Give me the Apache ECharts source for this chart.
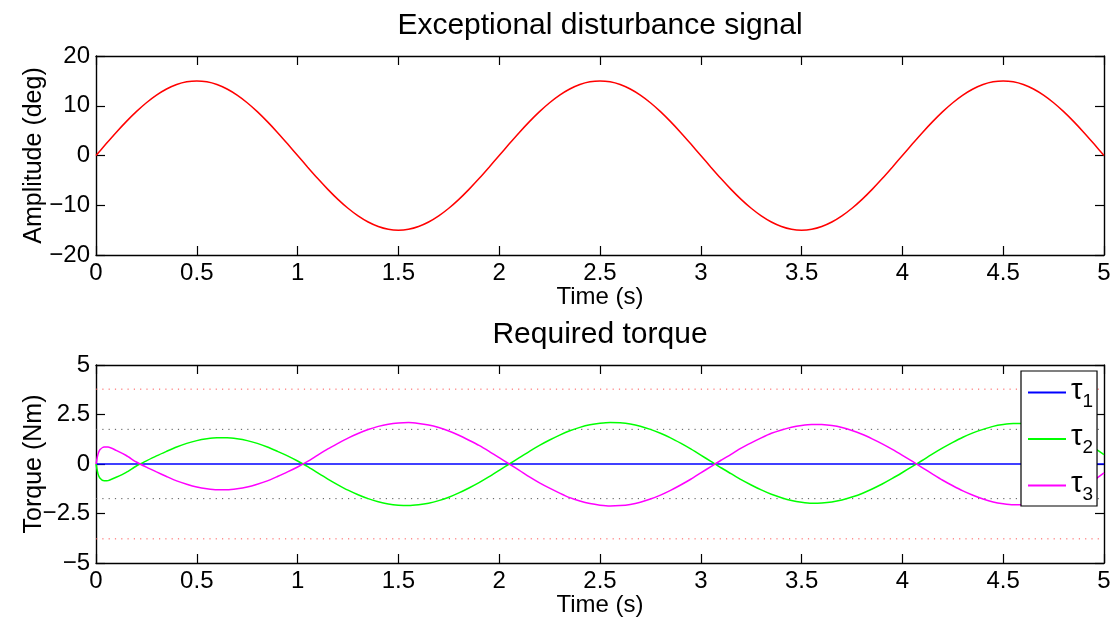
<!DOCTYPE html>
<html>
<head>
<meta charset="utf-8">
<script src="https://cdn.jsdelivr.net/npm/echarts@6/dist/echarts.min.js"></script>
<style>
  html, body { margin: 0; padding: 0; background: #fff; }
  #chart { width: 1120px; height: 623px; }
</style>
</head>
<body>
<div id="chart"></div>
<script>
// top panel: disturbance signal (deg)
const signalTime = [
  0, 0.05, 0.1, 0.15, 0.2, 0.25, 0.3, 0.35, 0.4, 0.45, 0.5, 0.55, 0.6, 0.65, 0.7, 0.75, 0.8, 0.85, 0.9, 0.95,
  1, 1.05, 1.1, 1.15, 1.2, 1.25, 1.3, 1.35, 1.4, 1.45, 1.5, 1.55, 1.6, 1.65, 1.7, 1.75, 1.8, 1.85, 1.9, 1.95,
  2, 2.05, 2.1, 2.15, 2.2, 2.25, 2.3, 2.35, 2.4, 2.45, 2.5, 2.55, 2.6, 2.65, 2.7, 2.75, 2.8, 2.85, 2.9, 2.95,
  3, 3.05, 3.1, 3.15, 3.2, 3.25, 3.3, 3.35, 3.4, 3.45, 3.5, 3.55, 3.6, 3.65, 3.7, 3.75, 3.8, 3.85, 3.9, 3.95,
  4, 4.05, 4.1, 4.15, 4.2, 4.25, 4.3, 4.35, 4.4, 4.45, 4.5, 4.55, 4.6, 4.65, 4.7, 4.75, 4.8, 4.85, 4.9, 4.95,
  5
]
const signalAmp = [
  0, 2.35, 4.64, 6.81, 8.82, 10.61, 12.14, 13.37, 14.27, 14.82, 15, 14.82, 14.27, 13.37, 12.14, 10.61, 8.82, 6.81, 4.64, 2.35,
  0, -2.35, -4.64, -6.81, -8.82, -10.61, -12.14, -13.37, -14.27, -14.82, -15, -14.82, -14.27, -13.37, -12.14, -10.61, -8.82, -6.81, -4.64, -2.35,
  0, 2.35, 4.64, 6.81, 8.82, 10.61, 12.14, 13.37, 14.27, 14.82, 15, 14.82, 14.27, 13.37, 12.14, 10.61, 8.82, 6.81, 4.64, 2.35,
  0, -2.35, -4.64, -6.81, -8.82, -10.61, -12.14, -13.37, -14.27, -14.82, -15, -14.82, -14.27, -13.37, -12.14, -10.61, -8.82, -6.81, -4.64, -2.35,
  0, 2.35, 4.64, 6.81, 8.82, 10.61, 12.14, 13.37, 14.27, 14.82, 15, 14.82, 14.27, 13.37, 12.14, 10.61, 8.82, 6.81, 4.64, 2.35,
  0
]

// bottom panel: required torque (Nm)
const torqueTime = [
  0, 0.01, 0.02, 0.04, 0.06, 0.1, 0.15, 0.2,
  0.25, 0.3, 0.35, 0.4, 0.45, 0.5, 0.55, 0.6, 0.65, 0.7, 0.75, 0.8, 0.85, 0.9, 0.95, 1,
  1.05, 1.1, 1.15, 1.2, 1.25, 1.3, 1.35, 1.4, 1.45, 1.5, 1.55, 1.6, 1.65, 1.7, 1.75, 1.8, 1.85, 1.9, 1.95, 2,
  2.05, 2.1, 2.15, 2.2, 2.25, 2.3, 2.35, 2.4, 2.45, 2.5, 2.55, 2.6, 2.65, 2.7, 2.75, 2.8, 2.85, 2.9, 2.95, 3,
  3.05, 3.1, 3.15, 3.2, 3.25, 3.3, 3.35, 3.4, 3.45, 3.5, 3.55, 3.6, 3.65, 3.7, 3.75, 3.8, 3.85, 3.9, 3.95, 4,
  4.05, 4.1, 4.15, 4.2, 4.25, 4.3, 4.35, 4.4, 4.45, 4.5, 4.55, 4.6, 4.65, 4.7, 4.75, 4.8, 4.85, 4.9, 4.95, 5
]
const tau2 = [
  0, -0.5, -0.72, -0.85, -0.84, -0.67, -0.42, -0.1,
  0.16, 0.41, 0.64, 0.86, 1.04, 1.18, 1.27, 1.32, 1.32, 1.27, 1.18, 1.04, 0.86, 0.64, 0.41, 0.15,
  -0.13, -0.45, -0.76, -1.05, -1.32, -1.55, -1.75, -1.91, -2.02, -2.08, -2.10, -2.06, -1.98, -1.85, -1.68, -1.46, -1.21, -0.94, -0.64, -0.32,
  0, 0.32, 0.64, 0.94, 1.21, 1.46, 1.68, 1.85, 1.98, 2.06, 2.10, 2.08, 2.02, 1.91, 1.75, 1.55, 1.32, 1.05, 0.76, 0.45,
  0.13, -0.19, -0.49, -0.79, -1.06, -1.31, -1.53, -1.70, -1.84, -1.93, -1.98, -1.97, -1.92, -1.82, -1.67, -1.49, -1.26, -1.01, -0.73, -0.43,
  -0.12, 0.19, 0.51, 0.81, 1.09, 1.35, 1.57, 1.75, 1.90, 1.99, 2.04, 2.04, 1.99, 1.90, 1.75, 1.57, 1.35, 1.09, 0.81, 0.47
]
const tau3 = [
  0, 0.5, 0.73, 0.86, 0.86, 0.69, 0.43, 0.1,
  -0.16, -0.40, -0.63, -0.85, -1.02, -1.16, -1.25, -1.30, -1.30, -1.25, -1.16, -1.02, -0.85, -0.63, -0.40, -0.15,
  0.13, 0.45, 0.76, 1.04, 1.31, 1.54, 1.74, 1.90, 2.01, 2.07, 2.09, 2.05, 1.97, 1.84, 1.67, 1.45, 1.20, 0.94, 0.64, 0.32,
  0, -0.32, -0.65, -0.95, -1.22, -1.47, -1.70, -1.87, -2.00, -2.08, -2.12, -2.10, -2.04, -1.93, -1.77, -1.57, -1.33, -1.06, -0.77, -0.45,
  -0.13, 0.19, 0.49, 0.80, 1.07, 1.32, 1.55, 1.72, 1.86, 1.95, 2.00, 1.99, 1.94, 1.84, 1.69, 1.50, 1.27, 1.02, 0.74, 0.44,
  0.13, -0.19, -0.51, -0.82, -1.10, -1.36, -1.58, -1.77, -1.92, -2.01, -2.06, -2.06, -2.01, -1.92, -1.77, -1.58, -1.36, -1.10, -0.82, -0.45
]
const tau1Time = [0, 5]
const tau1 = [0, 0]

// dotted limit lines
const limitTime = [0, 5]
const outerLimit = 3.78
const innerLimit = 1.75

// ticks
const xTicks = [0, 0.5, 1, 1.5, 2, 2.5, 3, 3.5, 4, 4.5, 5]
const ampTicks = [-20, -10, 0, 10, 20]
const torqueTicks = [-5, -2.5, 0, 2.5, 5]

const FONT = '"Liberation Sans", Arial, Helvetica, sans-serif'
const pairs = (xs, ys) => xs.map((x, i) => [x, ys[i]])
const fmt = (v) => String(v).replace('-', '\u2212')

const boxLine = { show: true, onZero: false, lineStyle: { color: '#000', width: 1.4 } }
const tick = { show: true, inside: true, length: 9, lineStyle: { color: '#000', width: 1.2 } }

function xAxisPair(gridIndex) {
  const base = {
    type: 'value', gridIndex,
    min: xTicks[0], max: xTicks[xTicks.length - 1],
    interval: xTicks[1] - xTicks[0],
    splitLine: { show: false },
    axisLine: boxLine, axisTick: tick,
  }
  return [
    {
      ...base, position: 'bottom',
      name: 'Time (s)', nameLocation: 'middle', nameGap: 30, nameMoveOverlap: false,
      nameTextStyle: { fontSize: 24, color: '#000', fontFamily: FONT },
      axisLabel: { fontSize: 24, color: '#000', fontFamily: FONT, margin: 6, formatter: fmt },
    },
    { ...base, position: 'top', axisLabel: { show: false } },
  ]
}

function yAxisPair(gridIndex, ticks, name) {
  const base = {
    type: 'value', gridIndex,
    min: ticks[0], max: ticks[ticks.length - 1],
    interval: ticks[1] - ticks[0],
    splitLine: { show: false },
    axisLine: boxLine, axisTick: tick,
  }
  return [
    {
      ...base, position: 'left',
      name, nameLocation: 'middle', nameGap: 49, nameMoveOverlap: false,
      nameTextStyle: { fontSize: 25, color: '#000', fontFamily: FONT },
      axisLabel: { fontSize: 24, color: '#000', fontFamily: FONT, margin: 6, formatter: fmt },
    },
    { ...base, position: 'right', axisLabel: { show: false } },
  ]
}

function limitSeries(value, color) {
  return [value, -value].map((v) => ({
    type: 'line', xAxisIndex: 2, yAxisIndex: 2,
    data: pairs(limitTime, [v, v]),
    symbol: 'none', silent: true,
    lineStyle: { color, width: 1, type: [1.2, 5.1] },
  }))
}

const chart = echarts.init(document.getElementById('chart'))
chart.setOption({
  animation: false,
  backgroundColor: '#fff',
  title: [
    { text: 'Exceptional disturbance signal', left: 600, top: 11, textAlign: 'center', padding: 0,
      textStyle: { fontSize: 30, fontWeight: 'normal', color: '#000', fontFamily: FONT } },
    { text: 'Required torque', left: 600, top: 320, textAlign: 'center', padding: 0,
      textStyle: { fontSize: 30, fontWeight: 'normal', color: '#000', fontFamily: FONT } },
  ],
  grid: [
    { left: 96, top: 56, width: 1008, height: 199 },
    { left: 96, top: 365, width: 1008, height: 198 },
  ],
  xAxis: [...xAxisPair(0), ...xAxisPair(1)],
  yAxis: [
    ...yAxisPair(0, ampTicks, 'Amplitude (deg)'),
    ...yAxisPair(1, torqueTicks, 'Torque (Nm)'),
  ],
  legend: {
    data: ['τ1', 'τ2', 'τ3'],
    orient: 'vertical',
    left: 1021, top: 371,
    backgroundColor: '#fff',
    borderColor: '#000', borderWidth: 1.2, borderRadius: 0,
    padding: [5, 4, 2, 7],
    itemGap: 11.5,
    itemWidth: 38, itemHeight: 2,
    icon: 'rect',
    formatter: (name) => `{t|τ}{s|${name.slice(1)}}`,
    textStyle: {
      color: '#000', fontFamily: FONT,
      rich: {
        t: { fontSize: 29, fontFamily: FONT, color: '#000', verticalAlign: 'bottom', padding: [0, 0, 6, 0] },
        s: { fontSize: 19, fontFamily: FONT, color: '#000', padding: [18, 0, 0, 0], verticalAlign: 'bottom' },
      },
    },
  },
  series: [
    {
      type: 'line', xAxisIndex: 0, yAxisIndex: 0,
      data: pairs(signalTime, signalAmp),
      smooth: 0.2, symbol: 'none',
      lineStyle: { color: '#ff0000', width: 1.5 },
    },
    ...limitSeries(outerLimit, '#ff5555'),
    ...limitSeries(innerLimit, '#555555'),
    {
      name: 'τ1', type: 'line', xAxisIndex: 2, yAxisIndex: 2,
      data: pairs(tau1Time, tau1), symbol: 'none',
      itemStyle: { color: '#0000ff' },
      lineStyle: { color: '#0000ff', width: 1.5 },
    },
    {
      name: 'τ2', type: 'line', xAxisIndex: 2, yAxisIndex: 2,
      data: pairs(torqueTime, tau2), smooth: 0.2, symbol: 'none',
      itemStyle: { color: '#00ff00' },
      lineStyle: { color: '#00ff00', width: 1.5 },
    },
    {
      name: 'τ3', type: 'line', xAxisIndex: 2, yAxisIndex: 2,
      data: pairs(torqueTime, tau3), smooth: 0.2, symbol: 'none',
      itemStyle: { color: '#ff00ff' },
      lineStyle: { color: '#ff00ff', width: 1.5 },
    },
  ],
})
</script>
</body>
</html>
